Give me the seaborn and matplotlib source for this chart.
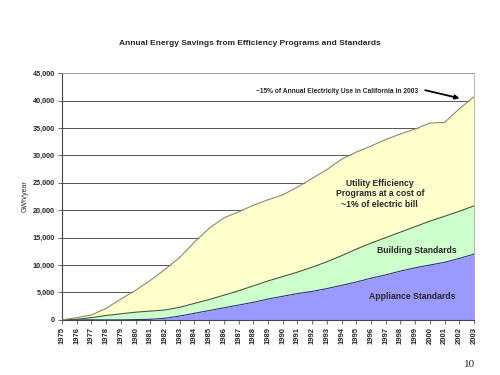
import pandas as pd
import seaborn as sns
import matplotlib.pyplot as plt
from matplotlib.ticker import FuncFormatter

# Data (GWh/year, cumulative stack tops)
years = list(range(1975, 2004))
appliance_top = [0, 0, 0, 0, 0, 50, 100, 300, 700, 1200, 1700, 2200, 2700, 3200,
                 3800, 4300, 4800, 5200, 5700, 6300, 6900, 7600, 8200, 8900, 9500,
                 10000, 10500, 11200, 12000]
building_top = [0, 100, 400, 800, 1100, 1400, 1600, 1800, 2300, 3000, 3700, 4500,
                5300, 6200, 7100, 7900, 8700, 9600, 10600, 11700, 12900, 14000,
                15000, 16000, 17000, 18000, 18900, 19800, 20800]
total_top = [0, 400, 900, 2100, 3800, 5400, 7200, 9200, 11400, 14200, 16700, 18600,
             19700, 20900, 21900, 22800, 24200, 25800, 27400, 29300, 30600, 31700,
             32900, 33900, 34800, 35900, 36000, 38500, 40700]

df = pd.DataFrame({'year': years, 'appliance': appliance_top,
                   'building': building_top, 'total': total_top})

sns.set_style('white')
plt.rcParams['font.family'] = ['Liberation Sans', 'DejaVu Sans']

fig = plt.figure(figsize=(5, 3.75), dpi=100)
ax = fig.add_axes([0.124, 0.147, 0.824, 0.658])

# Stacked areas
ax.fill_between(df['year'], 0, df['appliance'], color='#9999ff', lw=0, zorder=2)
ax.fill_between(df['year'], df['appliance'], df['building'], color='#ccffcc', lw=0, zorder=2)
ax.fill_between(df['year'], df['building'], df['total'], color='#ffffcc', lw=0, zorder=2)

# Boundary lines
sns.lineplot(data=df, x='year', y='appliance', color='#333380', lw=0.8, ax=ax, zorder=3)
sns.lineplot(data=df, x='year', y='building', color='#3d5c3d', lw=0.8, ax=ax, zorder=3)
sns.lineplot(data=df, x='year', y='total', color='#8a8a6a', lw=0.8, ax=ax, zorder=3)

ax.set_xlim(1975, 2003)
ax.set_ylim(0, 45000)
ax.set_yticks(range(0, 45001, 5000))
ax.yaxis.set_major_formatter(FuncFormatter(lambda v, p: f'{int(v):,}'))
ax.set_xticks(years)
ax.set_xticklabels([str(y) for y in years], rotation=90, fontsize=5.5, fontweight='bold')
for lab in ax.get_yticklabels():
    lab.set_fontsize(5.2)
    lab.set_fontweight('bold')
ax.tick_params(axis='both', length=3, width=0.6, pad=2, direction='out', color='#555555')
ax.tick_params(axis='x', bottom=True)
ax.tick_params(axis='y', left=True)

ax.yaxis.grid(True, color='#555555', lw=0.7, zorder=1)
ax.set_axisbelow(True)
for side in ['top', 'right']:
    ax.spines[side].set_color('#aaaaaa')
    ax.spines[side].set_linewidth(0.6)
for side in ['left', 'bottom']:
    ax.spines[side].set_color('#444444')
    ax.spines[side].set_linewidth(0.8)

ax.set_xlabel('')
ax.set_ylabel('GWh/year', fontsize=5, labelpad=3)

fig.text(0.5, 0.885, 'Annual Energy Savings from Efficiency Programs and Standards',
         ha='center', va='center', fontsize=6, fontweight='bold')

# Annotations
ax.annotate('', xy=(2002.2, 40300), xytext=(1999.5, 42000),
            arrowprops=dict(arrowstyle='-|>', color='black', lw=1.3, mutation_scale=6),
            zorder=5)
ax.text(1993.7, 41700, '~15% of Annual Electricity Use in California in 2003',
        ha='center', va='center', fontsize=4.8, fontweight='bold', zorder=5)
ax.text(1996.6, 23000, 'Utility Efficiency\nPrograms at a cost of\n~1% of electric bill',
        ha='center', va='center', fontsize=6.2, fontweight='bold', linespacing=1.2, zorder=5)
ax.text(1999.1, 12700, 'Building Standards', ha='center', va='center',
        fontsize=6.2, fontweight='bold', zorder=5)
ax.text(1998.8, 4200, 'Appliance Standards', ha='center', va='center',
        fontsize=6.2, fontweight='bold', zorder=5)

fig.text(0.94, 0.027, '10', ha='center', va='center', fontsize=8,
         family=['Liberation Serif', 'DejaVu Serif'])

fig.savefig('out.png', dpi=100)
plt.close(fig)
